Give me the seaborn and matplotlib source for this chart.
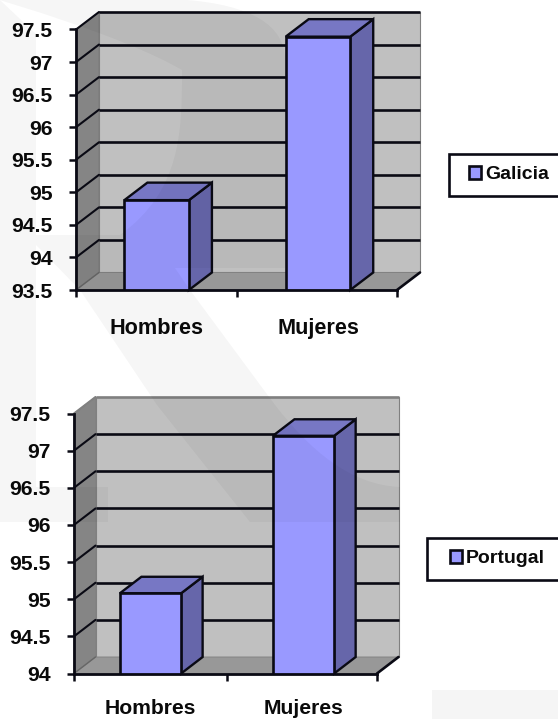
# -*- coding: utf-8 -*-
import matplotlib
matplotlib.use('Agg')
import matplotlib.pyplot as plt
import seaborn as sns
from matplotlib.patches import Patch, PathPatch, Polygon, Rectangle
from matplotlib.path import Path

# --- DADOS ---
categorias = ['Hombres', 'Mujeres']
galicia = [94.88, 97.39]
portugal = [95.08, 97.2]
ticks_galicia = [93.5, 94, 94.5, 95, 95.5, 96, 96.5, 97, 97.5]
ticks_portugal = [94, 94.5, 95, 95.5, 96, 96.5, 97, 97.5]

# --- CONFIGURAÇÃO ---
W, H = 558, 719
AZUL = '#9999ff'
AZUL_TOPO = '#7777c4'
AZUL_LADO = '#6666aa'
PAREDE = '#c0c0c0'
PAREDE_LADO = '#858585'
CHAO = '#989898'
PRETO = '#0a0a14'
FONTE_X = 15.6
FONTE_Y = 15.2
LW = 1.9

sns.set_style('white')
plt.rcParams['font.family'] = ['Liberation Sans', 'DejaVu Sans']
plt.rcParams['font.weight'] = 'bold'


def caixa(esq, topo, dir_, base):
    # pixels da imagem -> fração da figura
    return [esq / W, 1 - base / H, (dir_ - esq) / W, (base - topo) / H]


def fx(x):
    return x / W


def fy(y):
    return 1 - y / H


def painel(fig, pos, valores, ticks, nome, xmax, dx, dy, legenda, grade_topo, fonte_x, pad_x):
    ax = fig.add_axes(caixa(*pos))
    sns.barplot(x=categorias, y=valores, color=AZUL, saturation=1, width=0.4,
                edgecolor=PRETO, linewidth=LW, ax=ax, zorder=5)
    y0, y1 = ticks[0], ticks[-1]
    x0, x1 = -0.5, xmax
    ax.set_xlim(x0, x1)
    ax.set_ylim(y0, y1)
    ax.set_facecolor('none')

    # paredes 3D
    ax.add_patch(Polygon([(x0 + dx, y0 + dy), (x1 + dx, y0 + dy), (x1 + dx, y1 + dy), (x0 + dx, y1 + dy)],
                         fc=PAREDE, ec='#808080', lw=0.8, clip_on=False, zorder=1))
    ax.add_patch(Polygon([(x0, y0), (x0 + dx, y0 + dy), (x0 + dx, y1 + dy), (x0, y1)],
                         fc=PAREDE_LADO, ec='#777777', lw=0.6, clip_on=False, zorder=1))
    ax.add_patch(Polygon([(x0, y0), (x1, y0), (x1 + dx, y0 + dy), (x0 + dx, y0 + dy)],
                         fc=CHAO, ec='#808080', lw=0.6, clip_on=False, zorder=1))

    # linhas de grade
    for t in ticks[1:]:
        cor = PRETO
        if t == y1 and not grade_topo:
            cor = '#808080'
        ax.plot([x0 + dx, x1 + dx], [t + dy, t + dy], color=cor, lw=LW, clip_on=False, zorder=2,
                solid_capstyle='butt')
        ax.plot([x0, x0 + dx], [t, t + dy], color=cor, lw=1.5, clip_on=False, zorder=2)
    ax.plot([x1, x1 + dx], [y0, y0 + dy], color=PRETO, lw=LW, clip_on=False, zorder=3)
    ax.plot([x0, x0 + dx], [y0, y0 + dy], color='#666666', lw=1.0, clip_on=False, zorder=3)

    # faces das barras
    for barra in ax.patches:
        if barra.get_zorder() != 5:
            continue
        a, b = barra.get_x(), barra.get_x() + barra.get_width()
        v = barra.get_height()
        ax.add_patch(Polygon([(b, y0), (b + dx, y0 + dy), (b + dx, v + dy), (b, v)],
                             fc=AZUL_LADO, ec=PRETO, lw=LW - 0.2, clip_on=False, zorder=4))
        ax.add_patch(Polygon([(a, v), (b, v), (b + dx, v + dy), (a + dx, v + dy)],
                             fc=AZUL_TOPO, ec=PRETO, lw=LW - 0.2, clip_on=False, zorder=4))

    # eixos
    sns.despine(ax=ax)
    for lado in ['left', 'bottom']:
        ax.spines[lado].set_linewidth(2.0)
        ax.spines[lado].set_color(PRETO)
        ax.spines[lado].set_zorder(6)
    ax.set_yticks(ticks)
    ax.set_yticklabels([f'{t:g}' for t in ticks])
    ax.tick_params(axis='y', left=True, length=5, width=1.8, color=PRETO, pad=12, labelsize=FONTE_Y,
                   labelcolor='#0a0a0a')
    ax.set_xticks([x0, 0.5, x1], minor=True)
    ax.tick_params(axis='x', which='minor', bottom=True, length=5, width=1.8, color=PRETO)
    ax.tick_params(axis='x', which='major', bottom=False, length=0, pad=pad_x, labelsize=fonte_x,
                   labelcolor='#0a0a0a')

    # legenda
    esq, topo, base, hx = legenda
    fig.add_artist(Rectangle((fx(esq), fy(base)), (W + 10 - esq) / W, (base - topo) / H,
                             transform=fig.transFigure, fc='white', ec=PRETO, lw=LW, zorder=3))
    leg = fig.legend(handles=[Patch(fc=AZUL, ec=PRETO, lw=LW, label=nome)], loc='center left',
                     bbox_to_anchor=(fx(hx), fy((topo + base) / 2)), frameon=False, borderpad=0,
                     borderaxespad=0, handlelength=0.62, handleheight=0.62, handletextpad=0.2,
                     labelcolor='#0a0a0a',
                     prop={'size': 14, 'weight': 'bold', 'family': 'Liberation Sans'})
    leg.set_zorder(4)
    return ax


def marca_dagua(fig):
    # letra clara de fundo, quase invisível
    cor = (0, 0, 0, 0.035)
    verts = [(0, 0), (187, 0), (250, 5), (285, 25), (285, 60), (285, 268), (175, 268),
             (190, 290), (275, 405), (310, 450), (350, 485), (400, 487), (400, 522), (250, 522),
             (157, 405), (80, 290), (36, 245), (36, 522), (0, 522), (0, 0),
             (36, 34), (36, 235), (120, 235), (182, 190), (182, 130), (182, 70), (120, 34), (36, 34)]
    codes = [Path.MOVETO, Path.LINETO, Path.CURVE4, Path.CURVE4, Path.CURVE4, Path.LINETO, Path.LINETO,
             Path.LINETO, Path.LINETO, Path.CURVE4, Path.CURVE4, Path.CURVE4, Path.LINETO, Path.LINETO,
             Path.LINETO, Path.LINETO, Path.LINETO, Path.LINETO, Path.LINETO, Path.CLOSEPOLY,
             Path.MOVETO, Path.LINETO, Path.LINETO, Path.CURVE4, Path.CURVE4, Path.CURVE4, Path.CURVE4,
             Path.CLOSEPOLY]
    pts = [(fx(x), fy(y)) for x, y in verts]
    fig.add_artist(PathPatch(Path(pts, codes), fc=cor, ec='none', transform=fig.transFigure, zorder=8))
    fig.add_artist(Rectangle((fx(36), fy(522)), (108 - 36) / W, 35 / H, fc=cor, ec='none',
                             transform=fig.transFigure, zorder=8))
    fig.add_artist(Rectangle((fx(432), 0), (W - 432) / W, 29 / H, fc=(0, 0, 0, 0.04), ec='none',
                             transform=fig.transFigure, zorder=8))


def main():
    fig = plt.figure(figsize=(W / 100, H / 100), dpi=100)

    painel(fig, (76, 29.5, 397, 290), galicia, ticks_galicia, 'Galicia', xmax=1.49,
           dx=23 / 161.3, dy=17.5 / 65.1, legenda=(449, 153.5, 196, 469), grade_topo=True,
           fonte_x=FONTE_X, pad_x=20)
    # última linha de texto fica colada na borda de baixo
    painel(fig, (74, 413.5, 377, 673.5), portugal, ticks_portugal, 'Portugal', xmax=1.48,
           dx=21.5 / 153, dy=16.5 / 74.3, legenda=(427, 537.5, 580, 450), grade_topo=False,
           fonte_x=15.2, pad_x=18.5)

    marca_dagua(fig)
    fig.savefig('out.png', dpi=100)
    plt.close(fig)


if __name__ == '__main__':
    main()
